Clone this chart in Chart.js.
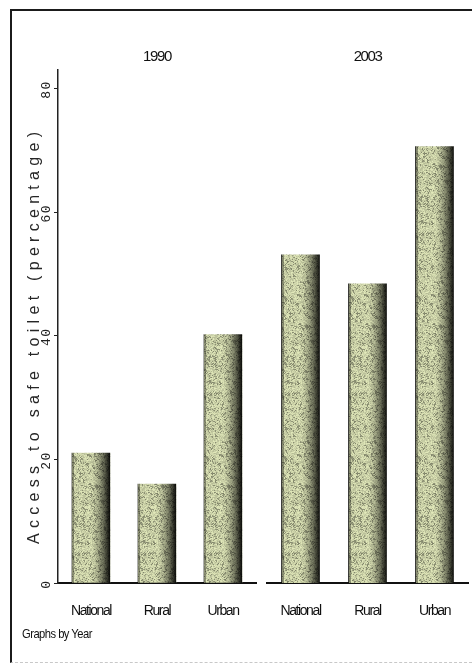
<!DOCTYPE html>
<html><head><meta charset="utf-8">
<script src="https://cdn.jsdelivr.net/npm/chart.js@4.4.1/dist/chart.umd.min.js"></script>
<style>
html,body{margin:0;padding:0;background:#fff;width:472px;height:666px;overflow:hidden;}
#frame{position:absolute;left:10px;top:9px;width:470px;height:651px;border-top:2px solid #1b1b1b;border-left:2px solid #1b1b1b;border-bottom:1px dashed #c8c8c8;}
#c1{position:absolute;left:0;top:0;}
#c2{position:absolute;left:262px;top:0;}
#note{position:absolute;left:22px;top:626px;font:13px "Liberation Sans",sans-serif;color:#111;letter-spacing:-0.6px;transform:scaleX(0.86);transform-origin:left top;}
</style></head><body>
<div id="frame"></div>
<canvas id="c1" width="262" height="666"></canvas>
<canvas id="c2" width="210" height="666"></canvas>
<div id="note"></div>
<script>
// ---- data ----
const categories = ['National', 'Rural', 'Urban'];
const panelTitles = ['1990', '2003'];
const values1990 = [21, 16, 40.2];
const values2003 = [53.1, 48.4, 70.6];
const yTicks = [0, 20, 40, 60, 80];
const yTitle = 'Access to safe toilet (percentage)';
const footnote = 'Graphs by Year';

document.getElementById('note').textContent = footnote;

const BAR_W = 38;
const SANS = '"Liberation Sans",Arial,sans-serif';

function hash(x, y) {
  let h = Math.imul(x, 374761393) + Math.imul(y, 668265263);
  h = Math.imul(h ^ (h >>> 13), 1274126177);
  h ^= h >>> 16;
  return (h >>> 0) / 4294967295;
}
function makeTexture(w, h) {
  const c = document.createElement('canvas'); c.width = w; c.height = h;
  const g = c.getContext('2d'); const img = g.createImageData(w, h);
  for (let y = 0; y < h; y++) for (let x = 0; x < w; x++) {
    const t = x / (w - 1);
    let L;
    if (t < 0.03) L = 140;
    else if (t < 0.5) L = 216;
    else { const u = (t - 0.5) / 0.5; L = 216 - 196 * Math.pow(u, 1.5); }
    const r = hash(x + 3, y + 7);
    const b = (hash(x + 97, y + 31) + hash(x + 98, y + 31) + hash(x + 97, y + 32) + hash(x + 96, y + 30)) / 4;
    let n = L * (0.86 + 0.22 * r);
    if (b < 0.38) n *= 0.7;
    n = Math.max(0, Math.min(255, n));
    const i = (y * w + x) * 4;
    img.data[i] = n * 0.97; img.data[i + 1] = n; img.data[i + 2] = n * 0.8; img.data[i + 3] = 255;
  }
  g.putImageData(img, 0, 0);
  return c;
}
const tex = makeTexture(BAR_W, 160);
function barFill(ctx) {
  const chart = ctx.chart; const xs = chart.scales.x;
  if (ctx.type !== 'data' || !xs) return '#b8b8a0';
  const cx = xs.getPixelForValue(ctx.dataIndex);
  const p = chart.ctx.createPattern(tex, 'repeat');
  p.setTransform(new DOMMatrix([1, 0, 0, 1, Math.round(cx - BAR_W / 2), 0]));
  return p;
}

// condensed look for the library's own labels
const narrowText = {
  id: 'narrowText',
  beforeDraw(chart) { chart.ctx.letterSpacing = '-1.4px'; }
};

const leftDecor = {
  id: 'leftDecor',
  afterDraw(chart) {
    const ys = chart.scales.y, c = chart.ctx;
    c.save();
    c.fillStyle = '#222';
    c.textAlign = 'center'; c.textBaseline = 'middle';
    c.font = '13px "Liberation Mono", monospace';
    c.letterSpacing = '1.5px';
    yTicks.forEach(v => {
      const y = ys.getPixelForValue(v);
      c.save(); c.translate(47, y + 1); c.rotate(-Math.PI / 2); c.fillText(String(v), 0, 0); c.restore();
    });
    c.fillStyle = '#262626';
    c.font = '16px "Liberation Sans", sans-serif';
    c.letterSpacing = '0px';
    const plain = c.measureText(yTitle).width;
    const sp = (412 - plain) / (yTitle.length - 1);
    c.letterSpacing = sp + 'px';
    c.translate(35, 338 - sp / 2); c.rotate(-Math.PI / 2);
    c.fillText(yTitle, 0, 0);
    c.restore();
  }
};

function makeChart(id, values, title, isLeft) {
  return new Chart(document.getElementById(id), {
    type: 'bar',
    data: { labels: categories, datasets: [{ data: values, backgroundColor: barFill, borderWidth: 0, barThickness: BAR_W }] },
    options: {
      responsive: false, animation: false, events: [],
      layout: { padding: isLeft ? { left: 0, right: 6, top: 40, bottom: 0 } : { left: 5, right: 4, top: 40, bottom: 0 } },
      plugins: {
        legend: { display: false }, tooltip: { enabled: false },
        title: { display: true, text: title, fullSize: false, color: '#111',
          font: { family: SANS, size: 15, weight: 'normal' }, padding: { top: 8, bottom: 4 } }
      },
      scales: {
        x: {
          grid: { display: false },
          border: { display: true, color: '#111', width: 2 },
          ticks: { color: '#111', font: { family: SANS, size: 14 }, padding: 12, maxRotation: 0, autoSkip: false },
          afterFit: s => { s.height = 83; }
        },
        y: {
          display: isLeft, min: 0, max: 83,
          afterBuildTicks: s => { s.ticks = yTicks.map(v => ({ value: v })); },
          grid: { display: true, drawOnChartArea: false, drawTicks: true, tickLength: 4, color: '#222', lineWidth: 1 },
          border: { display: true, color: '#222', width: 1.5 },
          ticks: { display: false },
          afterFit: s => { s.width = isLeft ? 58 : 0; }
        }
      }
    },
    plugins: isLeft ? [narrowText, leftDecor] : [narrowText]
  });
}
makeChart('c1', values1990, panelTitles[0], true);
makeChart('c2', values2003, panelTitles[1], false);
</script>
</body></html>
